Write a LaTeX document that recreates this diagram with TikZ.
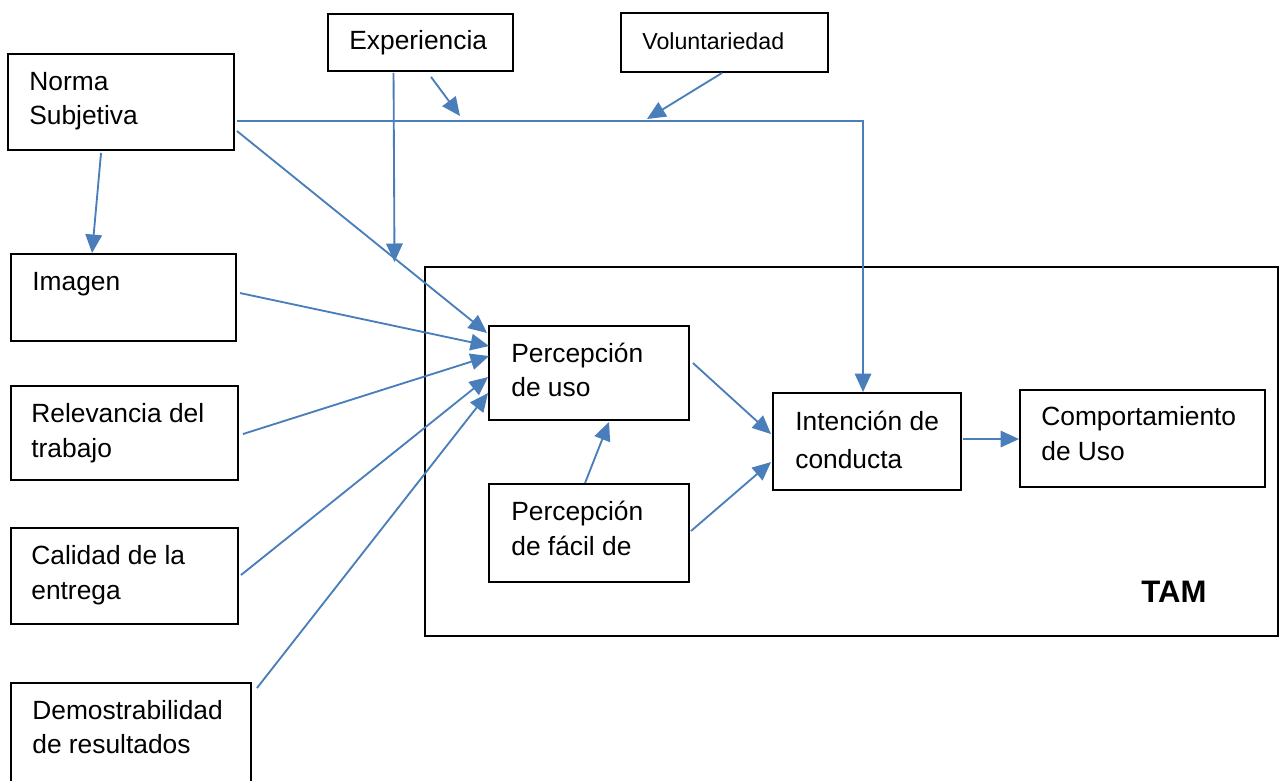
\documentclass[tikz,border=0pt]{standalone}
\usepackage{fontspec}
\setmainfont{Liberation Sans}
\usetikzlibrary{arrows.meta,calc,fit}
\definecolor{lineblue}{RGB}{74,126,187}
\begin{document}
\begin{tikzpicture}[x=0.02cm,y=-0.02cm,
  box/.style={draw=black, line width=1.1pt, inner sep=0pt},
  lbl/.style={anchor=base west, inner sep=0pt, align=left, font=\fontsize{15}{19.6}\selectfont},
  conn/.style={draw=lineblue, line width=1.05pt, -{Triangle[length=0.37cm,width=0.33cm]}},
  plainconn/.style={draw=lineblue, line width=1.05pt}]
\clip (0,0) rectangle (1285,781);
% boxes
\node[box, fit={(8,54)(234,150)}] (norma) {};
\node[box, fit={(328,14)(513,71)}] (exp) {};
\node[box, fit={(621,13)(828,72)}] (vol) {};
\node[box, fit={(11,254)(236,341)}] (imagen) {};
\node[box, fit={(11,386)(238,480)}] (rel) {};
\node[box, fit={(11,528)(238,624)}] (cal) {};
\node[box, fit={(11,683)(251,820)}] (dem) {};
\node[box, fit={(425,267)(1278,636)}] (tam) {};
\node[box, fit={(489,326)(689,420)}] (pu) {};
\node[box, fit={(489,484)(689,582)}] (pf) {};
\node[box, fit={(773,393)(961,490)}] (int) {};
\node[box, fit={(1020,390)(1265,487)}] (comp) {};
% texts (anchored at the baseline of the last line)
\node[lbl] (tnorma) at (29,124.5) {Norma\\Subjetiva};
\node[lbl] (texp) at (349,50) {Experiencia};
\node[lbl, font=\fontsize{13.2}{17}\selectfont] (tvol) at (642,49.3) {Voluntariedad};
\node[lbl] (timagen) at (32,290) {Imagen};
\node[lbl] (trel) at (31,457) {Relevancia del\\trabajo};
\node[lbl] (tcal) at (31,599) {Calidad de la\\entrega};
\node[lbl] (tdem) at (32,753.8) {Demostrabilidad\\de resultados};
\node[lbl] (tpu) at (511,396.8) {Percepción\\de uso};
\node[lbl] (tpf) at (511,555.2) {Percepción\\de fácil de};
\node[lbl, font=\fontsize{15}{21.4}\selectfont] (tint) at (795,468.3) {Intención de\\conducta};
\node[lbl, font=\fontsize{15}{19.9}\selectfont] (tcomp) at (1041,460) {Comportamiento\\de Uso};
\node[lbl, font=\fontsize{17.7}{20}\selectfont\bfseries] (ttam) at (1141,602.3) {TAM};
% free ends
\coordinate (expend) at (394.5,262);
\coordinate (expline) at (460,116);
\coordinate (volline) at (647,119);
% connectors
\draw[conn] ($(norma.south west)+(94,2)$) -- ($(imagen.north west)+(82,0)$);
\draw[conn] ($(norma.north east)+(2,78)$) -- ($(pu.north west)+(-1,8)$);
\draw[conn] ($(norma.north east)+(2,68)$) -| ($(int.north west)+(91,0)$);
\draw[conn] ($(exp.south west)+(66.5,1)$) -- (expend);
\draw[conn] ($(exp.south west)+(104,5)$) -- (expline);
\draw[conn] ($(vol.south west)+(102,0)$) -- (volline);
\draw[conn] ($(imagen.north east)+(3,40)$) -- ($(pu.north west)+(1,21)$);
\draw[conn] ($(rel.north east)+(4,49)$) -- ($(pu.north west)+(1,31)$);
\draw[conn] ($(cal.north east)+(2,48)$) -- ($(pu.north west)+(0,52)$);
\draw[conn] ($(dem.north east)+(5,6)$) -- ($(pu.north west)+(0,68)$);
\draw[conn] ($(pu.north east)+(3,38)$) -- ($(int.north west)+(-1,42)$);
\draw[conn] ($(pf.north west)+(97,0)$) -- ($(pu.south west)+(121,1)$);
\draw[conn] ($(pf.north east)+(1,48)$) -- ($(int.north west)+(-1,70)$);
\draw[conn] ($(int.north east)+(1,47)$) -- ($(comp.north west)+(0,50)$);
\end{tikzpicture}
\end{document}
